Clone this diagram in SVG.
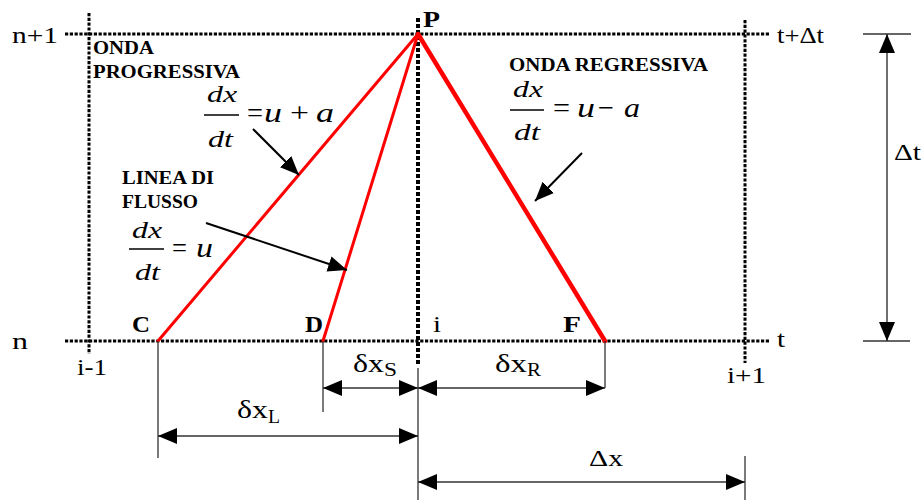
<svg xmlns="http://www.w3.org/2000/svg" width="923" height="501" viewBox="0 0 923 501">
<defs>
<style>
.grid{stroke:#000;stroke-width:3;stroke-dasharray:3.2 1.6;fill:none}
.gridc{stroke:#000;stroke-width:4;stroke-dasharray:4 2;fill:none}
.red{stroke:#ff0000;fill:none;stroke-linecap:round}
.dim{stroke:#333;stroke-width:1.4;fill:none}
.ext{stroke:#333;stroke-width:1.3;fill:none}
.ptr{stroke:#000;stroke-width:2;fill:none}
.bar{stroke:#000;stroke-width:1.5}
.t{font-family:"Liberation Serif","Times New Roman",serif;fill:#000}
.b{font-family:"Liberation Serif","Times New Roman",serif;font-weight:bold;fill:#000}
.m{font-family:"Liberation Serif","Times New Roman",serif;font-style:italic;fill:#000}
</style>
<marker id="ah" markerUnits="userSpaceOnUse" markerWidth="20" markerHeight="18" refX="19" refY="8" orient="auto-start-reverse" viewBox="0 0 20 16">
<path d="M0,0 L19,8 L0,16 z" fill="#000"/>
</marker>
</defs>
<rect width="923" height="501" fill="#fff"/>

<g id="grid">
<line class="grid" x1="65" y1="34" x2="769" y2="34"/>
<line class="grid" x1="65" y1="341" x2="769" y2="341"/>
<line class="grid" x1="89" y1="13" x2="89" y2="354"/>
<line class="grid" x1="745" y1="20" x2="745" y2="363"/>
<line class="gridc" x1="418" y1="18" x2="418" y2="365"/>
</g>

<g id="characteristics">
<line class="red" stroke-width="3" x1="418" y1="34" x2="158" y2="341"/>
<line class="red" stroke-width="3" x1="418" y1="34" x2="323" y2="341"/>
<line class="red" stroke-width="4.5" x1="418" y1="34" x2="605" y2="341"/>
</g>

<g id="axis-labels">
<text class="t" x="12" y="43" font-size="24" textLength="46" lengthAdjust="spacingAndGlyphs">n+1</text>
<text class="t" x="12" y="349" font-size="24" textLength="16" lengthAdjust="spacingAndGlyphs">n</text>
<text class="t" x="777" y="43" font-size="24" textLength="47" lengthAdjust="spacingAndGlyphs">t+Δt</text>
<text class="t" x="777" y="347" font-size="24" textLength="8" lengthAdjust="spacingAndGlyphs">t</text>
<text class="t" x="77" y="375" font-size="24" textLength="30" lengthAdjust="spacingAndGlyphs">i-1</text>
<text class="t" x="433" y="332" font-size="24" textLength="8" lengthAdjust="spacingAndGlyphs">i</text>
<text class="t" x="727" y="383" font-size="24" textLength="39" lengthAdjust="spacingAndGlyphs">i+1</text>
</g>

<g id="point-P"><text class="b" x="423" y="27" font-size="24" textLength="17" lengthAdjust="spacingAndGlyphs">P</text></g>
<g id="point-C"><text class="b" x="132" y="332" font-size="24" textLength="18" lengthAdjust="spacingAndGlyphs">C</text></g>
<g id="point-D"><text class="b" x="305" y="332" font-size="24" textLength="18" lengthAdjust="spacingAndGlyphs">D</text></g>
<g id="point-F"><text class="b" x="563" y="332" font-size="24" textLength="18" lengthAdjust="spacingAndGlyphs">F</text></g>

<g id="onda-progressiva">
<text class="b" x="93" y="54" font-size="18.5" textLength="61" lengthAdjust="spacingAndGlyphs">ONDA</text>
<text class="b" x="93" y="78" font-size="18.5" textLength="147" lengthAdjust="spacingAndGlyphs">PROGRESSIVA</text>
<text class="m" x="207" y="102" font-size="24" textLength="30" lengthAdjust="spacingAndGlyphs">dx</text>
<line class="bar" x1="204" y1="115" x2="239" y2="115"/>
<text class="m" x="208" y="147" font-size="24" textLength="25" lengthAdjust="spacingAndGlyphs">dt</text>
<text class="t" x="247" y="122" font-size="28" textLength="16" lengthAdjust="spacingAndGlyphs">=</text>
<text class="m" x="264" y="122" font-size="28" textLength="18" lengthAdjust="spacingAndGlyphs">u</text>
<text class="t" x="290" y="122" font-size="28" textLength="19" lengthAdjust="spacingAndGlyphs">+</text>
<text class="m" x="316" y="122" font-size="28" textLength="18" lengthAdjust="spacingAndGlyphs">a</text>
</g>

<g id="onda-regressiva">
<text class="b" x="509" y="71" font-size="18.5" textLength="199" lengthAdjust="spacingAndGlyphs">ONDA REGRESSIVA</text>
<text class="m" x="513" y="97" font-size="24" textLength="30" lengthAdjust="spacingAndGlyphs">dx</text>
<line class="bar" x1="510" y1="110" x2="544" y2="110"/>
<text class="m" x="514" y="140" font-size="24" textLength="26" lengthAdjust="spacingAndGlyphs">dt</text>
<text class="t" x="553" y="117" font-size="28" textLength="17" lengthAdjust="spacingAndGlyphs">=</text>
<text class="m" x="577" y="117" font-size="28" textLength="18" lengthAdjust="spacingAndGlyphs">u</text>
<text class="t" x="598" y="117" font-size="28" textLength="16" lengthAdjust="spacingAndGlyphs">−</text>
<text class="m" x="624" y="117" font-size="28" textLength="16" lengthAdjust="spacingAndGlyphs">a</text>
</g>

<g id="linea-di-flusso">
<text class="b" x="122" y="184" font-size="18.5" textLength="92" lengthAdjust="spacingAndGlyphs">LINEA DI</text>
<text class="b" x="122" y="208" font-size="18.5" textLength="76" lengthAdjust="spacingAndGlyphs">FLUSSO</text>
<text class="m" x="132" y="238" font-size="24" textLength="30" lengthAdjust="spacingAndGlyphs">dx</text>
<line class="bar" x1="129" y1="249" x2="164" y2="249"/>
<text class="m" x="135" y="280" font-size="24" textLength="25" lengthAdjust="spacingAndGlyphs">dt</text>
<text class="t" x="172" y="257" font-size="28" textLength="15" lengthAdjust="spacingAndGlyphs">=</text>
<text class="m" x="196" y="257" font-size="28" textLength="17" lengthAdjust="spacingAndGlyphs">u</text>
</g>

<g id="connectors">
<line class="ptr" x1="253" y1="129" x2="299" y2="175" marker-end="url(#ah)"/>
<line class="ptr" x1="206" y1="223" x2="347" y2="270" marker-end="url(#ah)"/>
<line class="ptr" x1="582" y1="153" x2="535" y2="201" marker-end="url(#ah)"/>
</g>

<g id="dimensions">
<line class="ext" x1="158" y1="341" x2="158" y2="458"/>
<line class="ext" x1="323" y1="341" x2="323" y2="412"/>
<line class="ext" x1="418" y1="368" x2="418" y2="500"/>
<line class="ext" x1="605" y1="341" x2="605" y2="388"/>
<line class="ext" x1="745" y1="456" x2="745" y2="500"/>
<line class="ext" x1="863" y1="34" x2="911" y2="34"/>
<line class="ext" x1="863" y1="341" x2="910" y2="341"/>
<line class="dim" x1="323" y1="388" x2="418" y2="388" marker-start="url(#ah)" marker-end="url(#ah)"/>
<line class="dim" x1="418" y1="388" x2="605" y2="388" marker-start="url(#ah)" marker-end="url(#ah)"/>
<line class="dim" x1="158" y1="436" x2="418" y2="436" marker-start="url(#ah)" marker-end="url(#ah)"/>
<line class="dim" x1="418" y1="482" x2="745" y2="482" marker-start="url(#ah)" marker-end="url(#ah)"/>
<line class="dim" stroke="#555" stroke-width="2" x1="887" y1="34" x2="887" y2="341" marker-start="url(#ah)" marker-end="url(#ah)"/>
<text class="t" x="353" y="372" font-size="25" textLength="31" lengthAdjust="spacingAndGlyphs">δx</text>
<text class="t" x="384" y="376" font-size="18" textLength="13" lengthAdjust="spacingAndGlyphs">S</text>
<text class="t" x="495" y="372" font-size="25" textLength="32" lengthAdjust="spacingAndGlyphs">δx</text>
<text class="t" x="527" y="376" font-size="18" textLength="14" lengthAdjust="spacingAndGlyphs">R</text>
<text class="t" x="237" y="418" font-size="25" textLength="31" lengthAdjust="spacingAndGlyphs">δx</text>
<text class="t" x="268" y="423" font-size="18" textLength="12" lengthAdjust="spacingAndGlyphs">L</text>
<text class="t" x="589" y="466" font-size="24" textLength="34" lengthAdjust="spacingAndGlyphs">Δx</text>
<text class="t" x="894" y="160" font-size="24" textLength="27" lengthAdjust="spacingAndGlyphs">Δt</text>
</g>
</svg>
